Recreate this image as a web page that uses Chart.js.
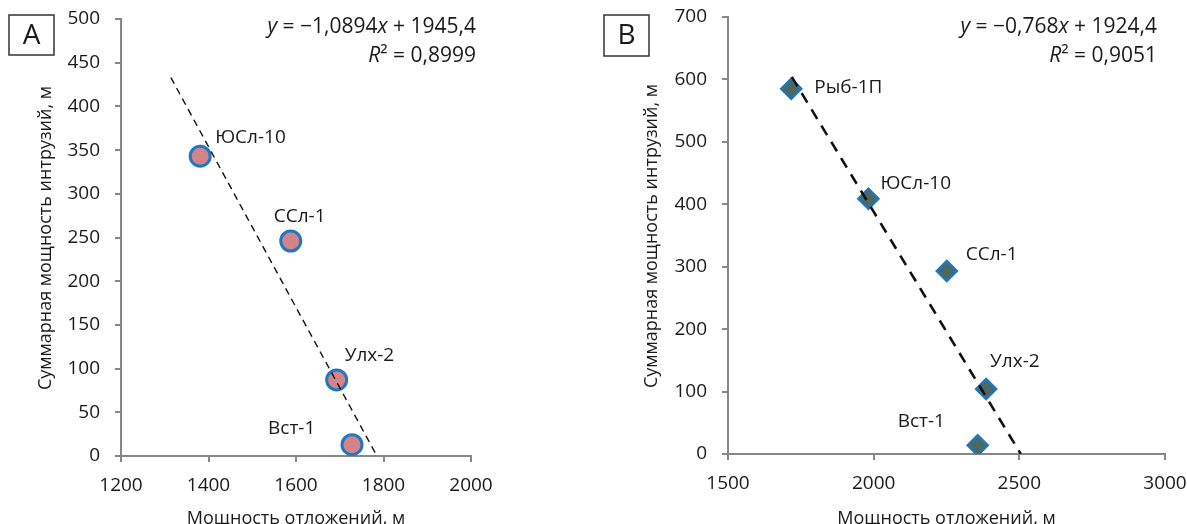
<!DOCTYPE html>
<html>
<head>
<meta charset="utf-8">
<script src="https://cdn.jsdelivr.net/npm/chart.js@4.4.1/dist/chart.umd.min.js"></script>
<style>
  html, body { margin: 0; padding: 0; background: #fff; }
  #wrap { position: relative; width: 1187px; height: 524px; overflow: hidden; }
  canvas { position: absolute; top: 0; }
  #chartA { left: 0; }
  #chartB { left: 590px; }
</style>
</head>
<body>
<div id="wrap">
  <canvas id="chartA" width="590" height="524"></canvas>
  <canvas id="chartB" width="597" height="524"></canvas>
</div>
<script>
// --- DATA: panel A ---
const namesA = ['ЮСл-10', 'ССл-1', 'Улх-2', 'Вст-1'];
const xA = [1381, 1588, 1693, 1728];
const yA = [343, 246, 87, 13];
const trendXA = [1314, 1785];
const trendYA = [433, 0];
const xTicksA = [1200, 1400, 1600, 1800, 2000];
const yTicksA = [0, 50, 100, 150, 200, 250, 300, 350, 400, 450, 500];
const equationA = ['y = −1,0894x + 1945,4', 'R² = 0,8999'];

// --- DATA: panel B ---
const namesB = ['Рыб-1П', 'ЮСл-10', 'ССл-1', 'Улх-2', 'Вст-1'];
const xB = [1717, 1982, 2251, 2386, 2357];
const yB = [585, 409, 293, 104, 14];
const trendXB = [1719, 2505];
const trendYB = [604, 0];
const xTicksB = [1500, 2000, 2500, 3000];
const yTicksB = [0, 100, 200, 300, 400, 500, 600, 700];
const equationB = ['y = −0,768x + 1924,4', 'R² = 0,9051'];

const xTitle = 'Мощность отложений, м';
const yTitle = 'Суммарная мощность интрузий, м';

// label offsets from the marker (dx to text left, dy to text middle)
const labelOffA = [[15, -19], [-17, -24], [8, -24], [-84, -16]];
const labelOffB = [[23, -1], [12, -15], [19, -16], [4, -27], [-80, -24]];

const FONT = '"Open Sans", "DejaVu Sans", sans-serif';
const axisGray = '#878787';
const textCol = '#1a1a1a';

// draws "y = ...x + ..." with italic letters, right aligned
function drawRich(ctx, str, right, baseline, size) {
  const parts = [];
  for (const ch of str) {
    const it = (ch === 'y' || ch === 'x' || ch === 'R');
    const last = parts[parts.length - 1];
    if (last && last.it === it) last.t += ch;
    else parts.push({ t: ch, it: it });
  }
  const fnt = p => (p.it ? 'italic ' : '') + size + 'px ' + FONT;
  let total = 0;
  parts.forEach(p => { ctx.font = fnt(p); total += ctx.measureText(p.t).width; });
  let x = right - total;
  ctx.textAlign = 'left';
  ctx.textBaseline = 'alphabetic';
  parts.forEach(p => {
    ctx.font = fnt(p);
    ctx.fillText(p.t, x, baseline);
    x += ctx.measureText(p.t).width;
  });
}

function annotations(opts) {
  return {
    id: 'annot',
    afterDatasetsDraw(chart) {
      const ctx = chart.ctx;
      const xs = chart.scales.x, ys = chart.scales.y;
      const area = chart.chartArea;
      ctx.save();
      ctx.fillStyle = textCol;

      // point names
      ctx.font = '19px ' + FONT;
      ctx.textAlign = 'left';
      ctx.textBaseline = 'middle';
      opts.names.forEach((n, i) => {
        const px = xs.getPixelForValue(opts.xs[i]);
        const py = ys.getPixelForValue(opts.ys[i]);
        ctx.fillText(n, px + opts.off[i][0], py + opts.off[i][1]);
      });

      // regression equation
      drawRich(ctx, opts.eq[0], opts.eqRight, 33, 21);
      drawRich(ctx, opts.eq[1], opts.eqRight, 62, 21);

      // panel letter in a box
      ctx.strokeStyle = '#333';
      ctx.lineWidth = 1.5;
      ctx.strokeRect(opts.box[0], opts.box[1], opts.box[2], opts.box[3]);
      ctx.font = '28px ' + FONT;
      ctx.textAlign = 'center';
      ctx.textBaseline = 'middle';
      ctx.fillText(opts.letter, opts.box[0] + opts.box[2] / 2, opts.box[1] + opts.box[3] / 2 + 1);

      // axis titles
      ctx.font = '18px ' + FONT;
      ctx.textAlign = 'center';
      ctx.textBaseline = 'alphabetic';
      ctx.fillText(xTitle, (area.left + area.right) / 2, 524);
      ctx.save();
      ctx.translate(opts.yTitleX, opts.yTitleY);
      ctx.rotate(-Math.PI / 2);
      ctx.textBaseline = 'middle';
      ctx.fillText(yTitle, 0, 0);
      ctx.restore();

      ctx.restore();
    }
  };
}

function makeScale(ticksArr, min, max, fixed, isX) {
  return {
    type: 'linear',
    min: min,
    max: max,
    afterBuildTicks: s => { s.ticks = ticksArr.map(v => ({ value: v })); },
    afterFit: s => {
      if (isX) s.height = fixed; else s.width = fixed;
      // tick labels may hang past the plot edges; the layout padding already leaves room
      s.paddingLeft = 0; s.paddingRight = 0; s.paddingTop = 0; s.paddingBottom = 0;
    },
    grid: { drawOnChartArea: false, drawTicks: true, tickLength: 6, color: axisGray, lineWidth: 2 },
    border: { color: axisGray, width: 2 },
    ticks: {
      color: textCol,
      font: { family: FONT, size: 19 },
      padding: isX ? 12 : 15,
      callback: v => String(v)
    }
  };
}

function buildChart(id, cfg) {
  const pts = cfg.xs.map((x, i) => ({ x: x, y: cfg.ys[i] }));
  const trend = cfg.tx.map((x, i) => ({ x: x, y: cfg.ty[i] }));
  return new Chart(document.getElementById(id), {
    type: 'scatter',
    data: {
      datasets: [
        {
          label: 'trend',
          data: trend,
          showLine: true,
          borderColor: '#111',
          borderWidth: cfg.dashW,
          borderDash: cfg.dash,
          pointRadius: 0,
          order: 0
        },
        {
          label: 'points',
          data: pts,
          pointStyle: cfg.pstyle,
          pointRadius: cfg.prad,
          pointHoverRadius: cfg.prad,
          backgroundColor: cfg.fill,
          borderColor: cfg.stroke,
          borderWidth: cfg.pbw,
          order: 1
        }
      ]
    },
    options: {
      responsive: false,
      animation: false,
      layout: { padding: cfg.pad },
      plugins: { legend: { display: false }, tooltip: { enabled: false } },
      scales: {
        x: makeScale(cfg.xt, cfg.xt[0], cfg.xt[cfg.xt.length - 1], cfg.xh, true),
        y: makeScale(cfg.yt, cfg.yt[0], cfg.yt[cfg.yt.length - 1], cfg.yw, false)
      }
    },
    plugins: [annotations(cfg.annot)]
  });
}

buildChart('chartA', {
  xs: xA, ys: yA, tx: trendXA, ty: trendYA, xt: xTicksA, yt: yTicksA,
  dash: [7, 5], dashW: 1.4,
  pstyle: 'circle', prad: 10, pbw: 3, fill: '#d5838a', stroke: '#1f78c0',
  pad: { left: 0, right: 119, top: 19, bottom: 0 }, xh: 68, yw: 121,
  annot: { names: namesA, xs: xA, ys: yA, off: labelOffA, eq: equationA, eqRight: 476,
           box: [9, 15, 45, 40], letter: 'A', yTitleX: 46, yTitleY: 238 }
});

buildChart('chartB', {
  xs: xB, ys: yB, tx: trendXB, ty: trendYB, xt: xTicksB, yt: yTicksB,
  dash: [11, 8], dashW: 2.6,
  pstyle: 'rectRot', prad: 10, pbw: 2.5, fill: '#4b6962', stroke: '#2276b8',
  pad: { left: 0, right: 22, top: 17, bottom: 0 }, xh: 70, yw: 138,
  annot: { names: namesB, xs: xB, ys: yB, off: labelOffB, eq: equationB, eqRight: 567,
           box: [14, 15, 45, 41], letter: 'B', yTitleX: 62, yTitleY: 236 }
});
</script>
</body>
</html>
